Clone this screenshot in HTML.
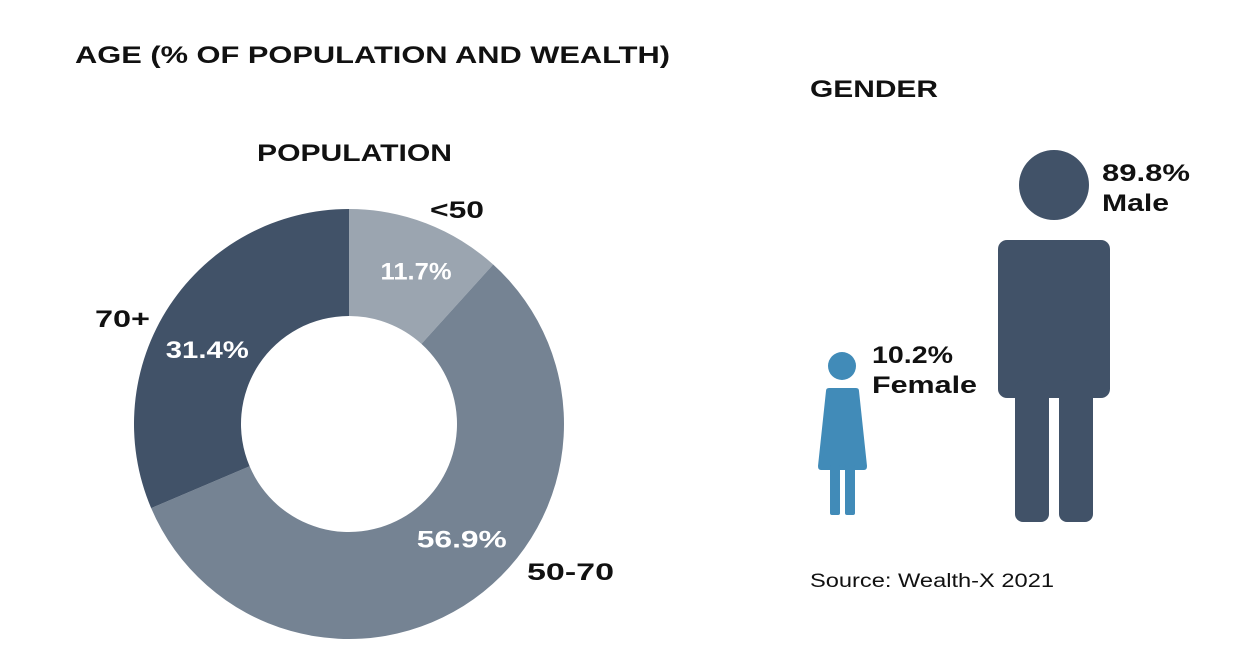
<!DOCTYPE html>
<html><head><meta charset="utf-8"><style>
body{margin:0;background:#fff;width:1248px;height:668px;overflow:hidden;font-family:"Liberation Sans",sans-serif}
svg{display:block}
text{font-family:"Liberation Sans",sans-serif;fill:#111}
</style></head><body>
<svg width="1248" height="668">
<text x="75" y="63" font-size="24" font-weight="bold" textLength="595" lengthAdjust="spacingAndGlyphs">AGE (% OF POPULATION AND WEALTH)</text>
<text x="257" y="161" font-size="24" font-weight="bold" textLength="195" lengthAdjust="spacingAndGlyphs">POPULATION</text>
<text x="810" y="97" font-size="24" font-weight="bold" textLength="128" lengthAdjust="spacingAndGlyphs">GENDER</text>
<g id="donut"></g>
<g fill="#415268">
<circle cx="1054" cy="185" r="35"/>
<rect x="998" y="240" width="112" height="158" rx="9"/>
<rect x="1015" y="380" width="34" height="142" rx="8"/>
<rect x="1059" y="380" width="34" height="142" rx="8"/>
</g>
<g fill="#418bb8">
<circle cx="842" cy="366" r="14"/>
<path d="M829 388 H856 Q859 388 859 391 L867 466 Q867 470 864 470 H821 Q818 470 818 466 L826 391 Q826 388 829 388Z"/>
<rect x="830" y="465" width="10" height="50" rx="2"/>
<rect x="845" y="465" width="10" height="50" rx="2"/>
</g>
<text x="1102" y="181" font-size="24" font-weight="bold" textLength="88" lengthAdjust="spacingAndGlyphs">89.8%</text>
<text x="1102" y="211" font-size="24" font-weight="bold" textLength="67" lengthAdjust="spacingAndGlyphs">Male</text>
<text x="872" y="363" font-size="24" font-weight="bold" textLength="81" lengthAdjust="spacingAndGlyphs">10.2%</text>
<text x="872" y="393" font-size="24" font-weight="bold" textLength="105" lengthAdjust="spacingAndGlyphs">Female</text>
<text x="810" y="587" font-size="19" fill="#222" textLength="244" lengthAdjust="spacingAndGlyphs">Source: Wealth-X 2021</text>
</svg>
<script>
const categories=["<50","50-70","70+"];
const values=[11.7,56.9,31.4];
const valueLabels=["11.7%","56.9%","31.4%"];
const colors=["#9ba5b0","#758393","#415268"];
const cx=349,cy=424,R=215,r=108;
const ns="http://www.w3.org/2000/svg";
const g=document.getElementById('donut');
const total=values.reduce((a,b)=>a+b,0);
function pt(a,rad){return [cx+rad*Math.sin(a),cy-rad*Math.cos(a)];}
let acc=0;
const outerPos=[[430,218,54],[527,580,87],[95,327,55]];
const labelOff=[[9,-3,71],[22,-13,90],[-7,14,83]];
values.forEach((v,i)=>{
  const a0=acc/total*2*Math.PI, a1=(acc+v)/total*2*Math.PI; acc+=v;
  const large=(a1-a0)>Math.PI?1:0;
  const [x0,y0]=pt(a0,R),[x1,y1]=pt(a1,R),[x2,y2]=pt(a1,r),[x3,y3]=pt(a0,r);
  const p=document.createElementNS(ns,'path');
  p.setAttribute('d',`M${x0} ${y0} A${R} ${R} 0 ${large} 1 ${x1} ${y1} L${x2} ${y2} A${r} ${r} 0 ${large} 0 ${x3} ${y3}Z`);
  p.setAttribute('fill',colors[i]);
  
  
  g.appendChild(p);
  const am=(a0+a1)/2;const [lx,ly]=pt(am,(R+r)/2+(i==1?-5:0));
  const t=document.createElementNS(ns,'text');
  t.setAttribute('x',lx+labelOff[i][0]);t.setAttribute('y',ly+9+labelOff[i][1]);
  t.setAttribute('text-anchor','middle');t.setAttribute('font-size','24');t.setAttribute('font-weight','bold');
  t.setAttribute('textLength',labelOff[i][2]);t.setAttribute('lengthAdjust','spacingAndGlyphs');
  t.setAttribute('style','fill:#fff');
  t.textContent=valueLabels[i];
  
  
  g.appendChild(t);
  const c=document.createElementNS(ns,'text');
  c.setAttribute('x',outerPos[i][0]);c.setAttribute('y',outerPos[i][1]);
  c.setAttribute('font-size','24');c.setAttribute('font-weight','bold');
  c.setAttribute('textLength',outerPos[i][2]);c.setAttribute('lengthAdjust','spacingAndGlyphs');
  c.textContent=categories[i];
  
  
  g.appendChild(c);
});
</script>
</body></html>
